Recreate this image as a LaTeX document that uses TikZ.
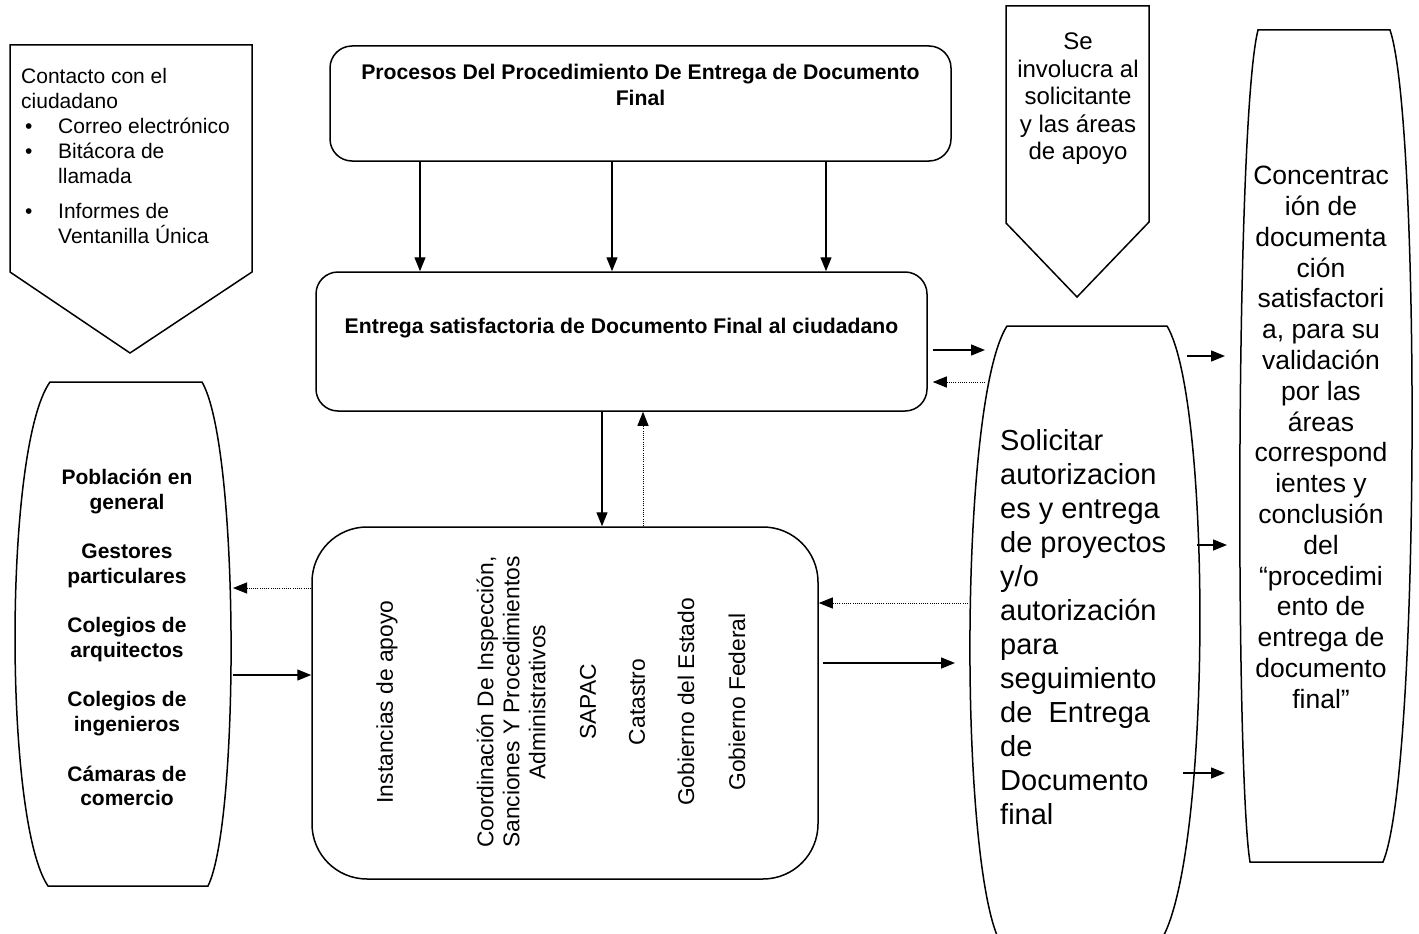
\documentclass[tikz,border=0pt]{standalone}
\usepackage{fontspec}
\setmainfont{Liberation Sans}
\usetikzlibrary{arrows.meta, positioning}

\newcommand{\itembul}{\hspace*{4pt}\makebox[33pt][l]{\textbullet}}

\begin{document}
\begin{tikzpicture}[x=1pt, y=-1pt,
    box/.style={draw=black, rectangle, rounded corners=22pt, line width=1.5pt},
    outline/.style={draw=black, line width=1.5pt},
    arrow/.style={-{Triangle[length=14pt, width=11pt]}, line width=1.4pt},
    dotarrow/.style={-{Triangle[length=14pt, width=11pt]}, line width=1pt, dash pattern=on 1pt off 1.2pt},
    txt/.style={inner sep=0pt, align=center, font=\fontsize{21}{25}\selectfont},
    boldtxt/.style={inner sep=0pt, align=center, font=\fontsize{21.2}{26}\selectfont\bfseries},
    sidetxt/.style={inner sep=0pt, align=center, rotate=90, font=\fontsize{22.8}{26}\selectfont}
]
\useasboundingbox (0,0) rectangle (1419,934);
\fill[white] (0,0) rectangle (1419,934);

% pentagons
\draw[outline] (10,45) -- (252,45) -- (252,272) -- (130,353) -- (10,272) -- cycle;
\draw[outline] (1006,6) -- (1149,6) -- (1149,222) -- (1077,297) -- (1006,223) -- cycle;

% barrels
\draw[outline] (50,382) -- (202,382) .. controls (239.7,447) and (239.7,821) .. (208,886)
    -- (48,886) .. controls (3.7,821) and (3.7,447) .. cycle;
\draw[outline] (1007,326) -- (1167,326) .. controls (1212,401) and (1212,862) .. (1160,942)
    -- (1000,942) .. controls (958.8,862) and (958.8,401) .. cycle;
\draw[outline] (1258,30) -- (1390,30) .. controls (1420.5,120) and (1420.5,772) .. (1383,862)
    -- (1250,862) .. controls (1235.3,772) and (1235.3,120) .. cycle;

% boxes
\node[box, minimum width=621, minimum height=115] (proc) at (640.5,103.5) {};
\node[box, minimum width=611, minimum height=139] (entrega) at (621.5,341.5) {};
\node[box, rounded corners=55pt, minimum width=506, minimum height=352] (inst) at (565,703) {};

% texts
\node[txt, align=left, anchor=north west] (contacto) at (21,68) {Contacto con el\\
ciudadano\\
\itembul Correo electrónico\\
\itembul Bitácora de\\
\hspace*{37pt}llamada\\[10pt]
\itembul Informes de\\
\hspace*{37pt}Ventanilla Única};

\node[boldtxt, below=19pt of proc.north] (procT) {Procesos Del Procedimiento De Entrega de Documento\\Final};
\node[boldtxt, below=47pt of entrega.north] (entregaT) {Entrega satisfactoria de Documento Final al ciudadano};

\node[boldtxt, font=\fontsize{21}{24.7}\selectfont\bfseries, anchor=north] (pob) at (127,469) {Población en\\general\\[24.7pt]
Gestores\\particulares\\[24.7pt]
Colegios de\\arquitectos\\[24.7pt]
Colegios de\\ingenieros\\[24.7pt]
Cámaras de\\comercio};

\node[sidetxt] (instA) at (387,702) {Instancias de apoyo};
\node[sidetxt] (instB) at (511,702) {Coordinación De Inspección,\\Sanciones Y Procedimientos\\Administrativos};
\node[sidetxt] (instC) at (588,702) {SAPAC};
\node[sidetxt] (instD) at (637,702) {Catastro};
\node[sidetxt] (instE) at (686,702) {Gobierno del Estado};
\node[sidetxt] (instF) at (737,702) {Gobierno Federal};

\node[txt, font=\fontsize{24}{27.5}\selectfont, anchor=north] (invol) at (1078,33) {Se\\involucra al\\solicitante\\y las áreas\\de apoyo};

\node[txt, align=left, font=\fontsize{29}{34}\selectfont, anchor=north west] (sol) at (1000,429) {Solicitar\\autorizacion\\es y entrega\\de proyectos\\y/o\\autorización\\para\\seguimiento\\de\ \ Entrega\\de\\Documento\\final};

\node[txt, font=\fontsize{26.5}{30.8}\selectfont, anchor=north] (conc) at (1321,166) {Concentrac\\ión de\\documenta\\ción\\satisfactori\\a, para su\\validación\\por las\\áreas\\correspond\\ientes y\\conclusión\\del\\“procedimi\\ento de\\entrega de\\documento\\final”};

% connector points
\coordinate (xa) at (420,0);
\coordinate (xb) at (612,0);
\coordinate (xc) at (826,0);
\coordinate (xdown) at (602,0);
\coordinate (xup) at (643,0);
\coordinate (pobIn) at (233,588);
\coordinate (pobOut) at (233,675);
\coordinate (solIn) at (985,350);
\coordinate (solBack) at (985,382);
\coordinate (solW1) at (968,603);
\coordinate (solW2) at (955,663);
\coordinate (solR1) at (1187,356);
\coordinate (solR2) at (1197,545);
\coordinate (solR3) at (1183,773);
\coordinate (concL1) at (1225,356);
\coordinate (concL2) at (1227,545);
\coordinate (concL3) at (1225,773);

% arrows
\draw[arrow] (proc.south -| xa) -- (entrega.north -| xa);
\draw[arrow] (proc.south -| xb) -- (entrega.north -| xb);
\draw[arrow] (proc.south -| xc) -- (entrega.north -| xc);
\draw[arrow] (entrega.south -| xdown) -- (inst.north -| xdown);
\draw[dotarrow] (inst.north -| xup) -- (entrega.south -| xup);
\draw[dotarrow] (inst.west |- pobIn) -- (pobIn);
\draw[arrow] (pobOut) -- (inst.west |- pobOut);
\draw[arrow, shorten <=5pt] (entrega.east |- solIn) -- (solIn);
\draw[dotarrow, shorten >=5pt] (solBack) -- (entrega.east |- solBack);
\draw[dotarrow] (solW1) -- (inst.east |- solW1);
\draw[arrow, shorten <=4pt] (inst.east |- solW2) -- (solW2);
\draw[arrow] (solR1) -- (concL1);
\draw[arrow] (solR2) -- (concL2);
\draw[arrow] (solR3) -- (concL3);
\end{tikzpicture}
\end{document}
